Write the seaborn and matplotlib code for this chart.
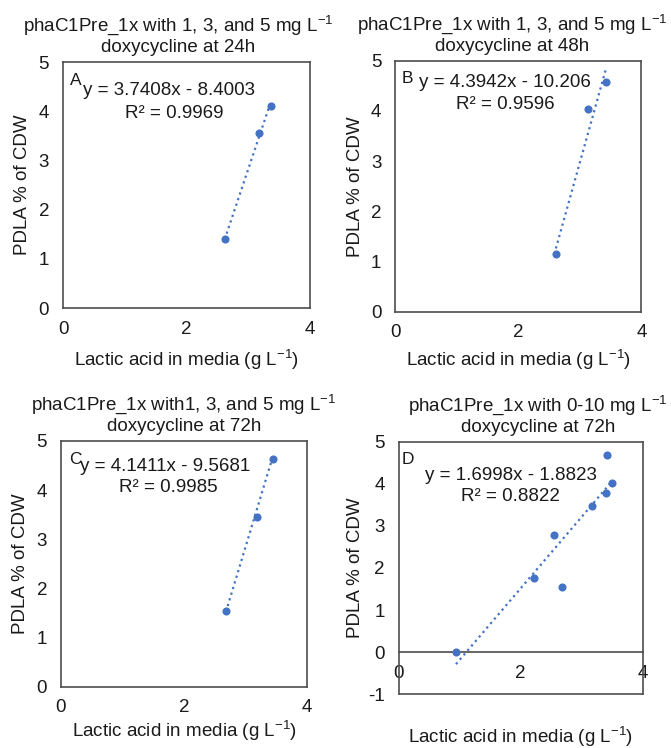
import numpy as np
import pandas as pd
import matplotlib.pyplot as plt
import seaborn as sns

# lactic acid (g/L) vs PDLA % of CDW
x_a = [2.62, 3.17, 3.37]
y_a = [1.40, 3.56, 4.11]
x_b = [2.61, 3.13, 3.43]
y_b = [1.16, 4.04, 4.58]
x_c = [2.68, 3.18, 3.45]
y_c = [1.55, 3.46, 4.64]
x_d = [0.94, 2.22, 2.54, 2.68, 3.17, 3.39, 3.42, 3.49]
y_d = [0.0, 1.76, 2.79, 1.56, 3.48, 3.78, 4.68, 4.01]

# Excel trendline coefficients as printed in each panel
slopes = [3.7408, 4.3942, 4.1411, 1.6998]
intercepts = [-8.4003, -10.206, -9.5681, -1.8823]
equations = ['y = 3.7408x - 8.4003', 'y = 4.3942x - 10.206',
             'y = 4.1411x - 9.5681', 'y = 1.6998x - 1.8823']
r2_labels = ['R² = 0.9969', 'R² = 0.9596', 'R² = 0.9985', 'R² = 0.8822']
letters = ['A', 'B', 'C', 'D']
titles = ['phaC1Pre_1x with 1, 3, and 5 mg L$^{-1}$\ndoxycycline at 24h',
          'phaC1Pre_1x with 1, 3, and 5 mg L$^{-1}$\ndoxycycline at 48h',
          'phaC1Pre_1x with1, 3, and 5 mg L$^{-1}$\ndoxycycline at 72h',
          'phaC1Pre_1x with 0-10 mg L$^{-1}$\ndoxycycline at 72h']
xlabel = 'Lactic acid in media (g L$^{-1}$)'
ylabel = 'PDLA % of CDW'

sns.set_theme(style='white')
plt.rcParams['font.family'] = ['Liberation Sans', 'DejaVu Sans']
plt.rcParams['mathtext.default'] = 'regular'
plt.rcParams['axes.unicode_minus'] = False

blue = '#4472C4'
spine_c = '#4d4d4d'
text_c = '#1a1a1a'
fs = 13.5

fig = plt.figure(figsize=(6.71, 7.48), dpi=100)

# axes rects, title x, letter pos, equation pos, r2 pos, ylabel x, xlabel y
panels = [
    dict(rect=[0.0939, 0.588, 0.368, 0.329], tx=0.466, let=(0.05, 0.927),
         eq=(0.43, 0.886), r2=(0.45, 0.79), yl=-0.13, xl=-0.163),
    dict(rect=[0.589, 0.583, 0.367, 0.336], tx=0.476, let=(0.048, 0.928),
         eq=(0.447, 0.911), r2=(0.447, 0.827), yl=-0.126, xl=-0.143),
    dict(rect=[0.0909, 0.0816, 0.367, 0.329], tx=0.5, let=(0.057, 0.923),
         eq=(0.423, 0.895), r2=(0.436, 0.81), yl=-0.13, xl=-0.13),
    dict(rect=[0.594, 0.0718, 0.364, 0.3377], tx=0.57, let=(0.038, 0.928),
         eq=(0.458, 0.868), r2=(0.458, 0.785), yl=-0.14, xl=-0.12),
]
data = [(x_a, y_a), (x_b, y_b), (x_c, y_c), (x_d, y_d)]

for i, p in enumerate(panels):
    ax = fig.add_axes(p['rect'])
    xs, ys = data[i]
    df = pd.DataFrame({'x': xs, 'y': ys})

    # dotted linear trendline over the data range
    xr = np.array([min(xs), max(xs)])
    ax.plot(xr, slopes[i] * xr + intercepts[i], ls=':', color=blue, lw=1.6,
            zorder=2)
    sns.scatterplot(data=df, x='x', y='y', ax=ax, color=blue, s=34,
                    linewidth=0, zorder=3)

    ax.set_xlim(0, 4)
    ax.set_xticks([0, 2, 4])
    if i == 3:
        ax.set_ylim(-1, 5)
        ax.set_yticks(range(-1, 6))
        ax.spines['bottom'].set_position(('data', 0))
        ax.axhline(-1, color=spine_c, lw=1.2, clip_on=False)
    else:
        ax.set_ylim(0, 5)
        ax.set_yticks(range(0, 6))

    for s in ax.spines.values():
        s.set_color(spine_c)
        s.set_linewidth(1.2)
    ax.tick_params(axis='x', direction='in', length=4, width=1,
                   color=spine_c, pad=9, labelsize=fs, labelcolor=text_c)
    ax.tick_params(axis='y', direction='in', length=3, width=1,
                   color=spine_c, pad=10, labelsize=fs, labelcolor=text_c)

    ax.set_title(titles[i], x=p['tx'], pad=7, fontsize=fs, color=text_c,
                 linespacing=1.15)
    ax.set_xlabel(xlabel, fontsize=fs, color=text_c)
    ax.set_ylabel(ylabel, fontsize=fs, color=text_c)
    ax.xaxis.set_label_coords(0.5, p['xl'])
    ax.yaxis.set_label_coords(p['yl'], 0.5)

    ax.text(*p['let'], letters[i], transform=ax.transAxes, fontsize=fs - 1,
            ha='center', va='center', color=text_c)
    ax.text(*p['eq'], equations[i], transform=ax.transAxes, fontsize=fs,
            ha='center', va='center', color=text_c)
    ax.text(*p['r2'], r2_labels[i], transform=ax.transAxes, fontsize=fs,
            ha='center', va='center', color=text_c)

fig.savefig('out.png', dpi=100)
